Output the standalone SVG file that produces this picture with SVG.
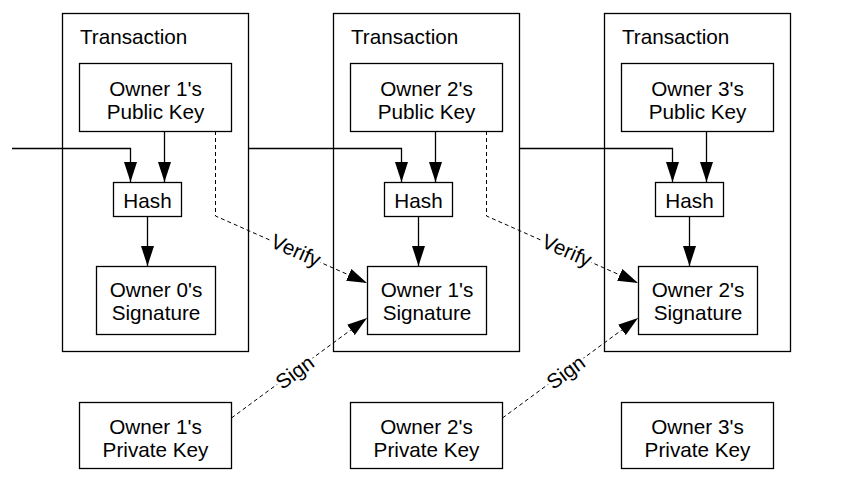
<svg xmlns="http://www.w3.org/2000/svg" width="858" height="486" viewBox="0 0 858 486">
<style>
.box{fill:#fff;stroke:#000;stroke-width:1.3}
.tx{fill:none;stroke:#000;stroke-width:1.3}
text{font-family:"Liberation Sans",Arial,sans-serif;font-size:20.7px;fill:#000}
.c{text-anchor:middle}
.ln{fill:none;stroke:#000;stroke-width:1.3}
.dash{fill:none;stroke:#000;stroke-width:1;stroke-dasharray:4 3}
.lbl{text-anchor:middle;paint-order:stroke;stroke:#fff;stroke-width:6px;stroke-linejoin:round}
</style>
<defs>
<marker id="ah" markerUnits="userSpaceOnUse" markerWidth="20" markerHeight="14" refX="20" refY="6.5" orient="auto" viewBox="0 0 20 13">
<path d="M0,0 L20,6.5 L0,13 z" fill="#000"/>
</marker>
</defs>
<rect width="858" height="486" fill="#fff"/>

<g id="tx1"><rect class="tx" x="62.5" y="13.5" width="186" height="338"/><text x="80" y="44">Transaction</text></g>
<g id="tx2"><rect class="tx" x="333.5" y="13.5" width="186" height="338"/><text x="351" y="44">Transaction</text></g>
<g id="tx3"><rect class="tx" x="604.5" y="13.5" width="186" height="338"/><text x="622" y="44">Transaction</text></g>

<g id="connectors">
<path class="ln" d="M12,148.5 H130.5 V182" marker-end="url(#ah)"/>
<path class="ln" d="M164.5,131 V182" marker-end="url(#ah)"/>
<path class="ln" d="M147.5,216 V266" marker-end="url(#ah)"/>
<path class="ln" d="M248,148.5 H401.5 V182" marker-end="url(#ah)"/>
<path class="ln" d="M435.5,131 V182" marker-end="url(#ah)"/>
<path class="ln" d="M418.5,216 V266" marker-end="url(#ah)"/>
<path class="ln" d="M519,148.5 H672.5 V182" marker-end="url(#ah)"/>
<path class="ln" d="M706.5,131 V182" marker-end="url(#ah)"/>
<path class="ln" d="M689.5,216 V266" marker-end="url(#ah)"/>
<path class="dash" d="M215.5,131 V216 L367,283" marker-end="url(#ah)"/>
<path class="dash" d="M486.5,131 V216 L638,283" marker-end="url(#ah)"/>
<path class="dash" d="M231.5,418 L367,318" marker-end="url(#ah)"/>
<path class="dash" d="M502.5,418 L638,318" marker-end="url(#ah)"/>
<text class="lbl" transform="translate(293,257) rotate(23.7)">Verify</text>
<text class="lbl" transform="translate(564,257) rotate(23.7)">Verify</text>
<text class="lbl" transform="translate(299,378) rotate(-36.5)">Sign</text>
<text class="lbl" transform="translate(570,378) rotate(-36.5)">Sign</text>
</g>

<g id="pub1"><rect class="box" x="79.5" y="63.5" width="152" height="68"/><text class="c" x="155.5" y="96">Owner 1's</text><text class="c" x="155.5" y="119">Public Key</text></g>
<g id="pub2"><rect class="box" x="350.5" y="63.5" width="152" height="68"/><text class="c" x="426.5" y="96">Owner 2's</text><text class="c" x="426.5" y="119">Public Key</text></g>
<g id="pub3"><rect class="box" x="621.5" y="63.5" width="152" height="68"/><text class="c" x="697.5" y="96">Owner 3's</text><text class="c" x="697.5" y="119">Public Key</text></g>

<g id="hash1"><rect class="box" x="113.5" y="182.5" width="68" height="34"/><text class="c" x="147.5" y="208">Hash</text></g>
<g id="hash2"><rect class="box" x="384.5" y="182.5" width="68" height="34"/><text class="c" x="418.5" y="208">Hash</text></g>
<g id="hash3"><rect class="box" x="655.5" y="182.5" width="68" height="34"/><text class="c" x="689.5" y="208">Hash</text></g>

<g id="sig0"><rect class="box" x="96.5" y="266.5" width="119" height="68"/><text class="c" x="156" y="297">Owner 0's</text><text class="c" x="156" y="320">Signature</text></g>
<g id="sig1"><rect class="box" x="367.5" y="266.5" width="119" height="68"/><text class="c" x="427" y="297">Owner 1's</text><text class="c" x="427" y="320">Signature</text></g>
<g id="sig2"><rect class="box" x="638.5" y="266.5" width="119" height="68"/><text class="c" x="698" y="297">Owner 2's</text><text class="c" x="698" y="320">Signature</text></g>

<g id="priv1"><rect class="box" x="79.5" y="402.5" width="152" height="66"/><text class="c" x="155.5" y="434">Owner 1's</text><text class="c" x="155.5" y="457">Private Key</text></g>
<g id="priv2"><rect class="box" x="350.5" y="402.5" width="152" height="66"/><text class="c" x="426.5" y="434">Owner 2's</text><text class="c" x="426.5" y="457">Private Key</text></g>
<g id="priv3"><rect class="box" x="621.5" y="402.5" width="152" height="66"/><text class="c" x="697.5" y="434">Owner 3's</text><text class="c" x="697.5" y="457">Private Key</text></g>
</svg>
